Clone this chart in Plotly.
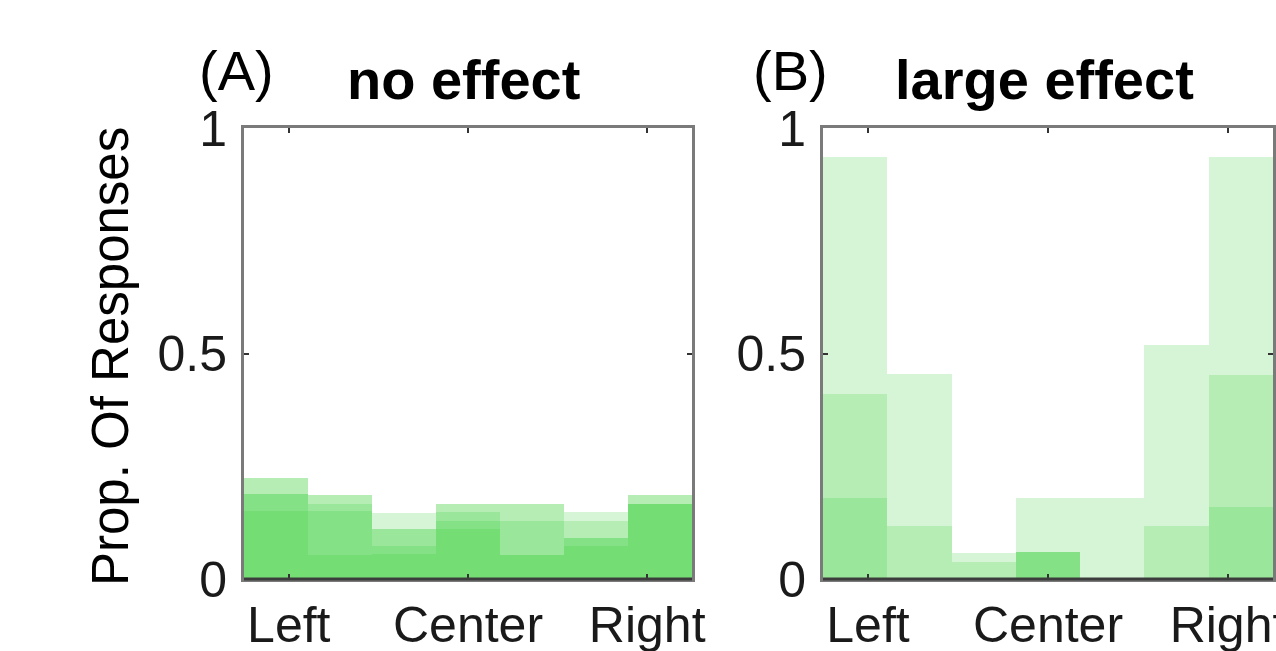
import plotly.graph_objects as go

W, H = 1276, 651

# Response bins (normalised azimuth, bin centres) and bin width
bin_centers = [-1.0714, -0.7143, -0.3571, 0.0, 0.3571, 0.7143, 1.0714]
bin_width = 0.3571
tick_vals = [-1, 0, 1]
tick_text = ["Left", "Center", "Right"]

# Proportion of responses per bin, one list per stimulus condition
no_effect = {
    "s1": [0.224, 0.187, 0.147, 0.166, 0.053, 0.092, 0.166],
    "s2": [0.224, 0.053, 0.110, 0.110, 0.166, 0.149, 0.187],
    "s3": [0.188, 0.187, 0.055, 0.149, 0.129, 0.073, 0.166],
    "s4": [0.188, 0.166, 0.110, 0.129, 0.053, 0.129, 0.187],
    "s5": [0.150, 0.151, 0.073, 0.166, 0.166, 0.092, 0.166],
}
large_effect = {
    "s1": [0.935, 0.000, 0.058, 0.000, 0.000, 0.000, 0.000],
    "s2": [0.410, 0.455, 0.000, 0.060, 0.000, 0.000, 0.000],
    "s3": [0.180, 0.118, 0.037, 0.179, 0.179, 0.1175, 0.160],
    "s4": [0.000, 0.000, 0.000, 0.060, 0.000, 0.519, 0.452],
    "s5": [0.000, 0.000, 0.000, 0.060, 0.000, 0.000, 0.935],
}

bar_color = "rgba(50,205,50,0.2)"
font = "Liberation Sans, Arial, sans-serif"


def px_x(p):
    return p / W


def px_y(p):
    return 1 - p / H


fig = go.Figure()

for axis_id, data in (("", no_effect), ("2", large_effect)):
    for name, vals in data.items():
        fig.add_trace(go.Bar(
            x=bin_centers, y=vals, width=bin_width,
            marker=dict(color=bar_color, line=dict(width=0)),
            xaxis="x" + axis_id, yaxis="y" + axis_id,
            name=name, showlegend=False, hoverinfo="skip",
        ))

x_dom_a = [px_x(244), px_x(692)]
x_dom_b = [px_x(823), px_x(1273)]
y_dom = [px_y(579), px_y(128)]

frame = dict(showline=True, linecolor="#7a7a7a", linewidth=3, mirror="ticks",
             ticks="inside", ticklen=5, tickwidth=2, tickcolor="#333333",
             showgrid=False, zeroline=False, automargin=False,
             ticklabeloverflow="allow",
             tickfont=dict(family=font, size=50, color="#1a1a1a"))

xaxis_common = dict(frame, range=[-1.25, 1.25], tickvals=tick_vals,
                    ticktext=tick_text, ticklabelstandoff=0)
yaxis_common = dict(frame, range=[0, 1], tickvals=[0, 0.5, 1],
                    ticktext=["0", "0.5", "1"], ticklabelstandoff=4)

fig.update_layout(
    width=W, height=H,
    margin=dict(l=0, r=0, t=0, b=0),
    paper_bgcolor="white", plot_bgcolor="white",
    barmode="overlay", bargap=0,
    xaxis=dict(xaxis_common, domain=x_dom_a, anchor="y"),
    yaxis=dict(yaxis_common, domain=y_dom, anchor="x"),
    xaxis2=dict(xaxis_common, domain=x_dom_b, anchor="y2"),
    yaxis2=dict(yaxis_common, domain=y_dom, anchor="x2"),
)

# darker bottom edge of each frame
for dom in (x_dom_a, x_dom_b):
    fig.add_shape(type="line", xref="paper", yref="paper",
                  x0=dom[0], x1=dom[1], y0=y_dom[0], y1=y_dom[0],
                  line=dict(color="#3c3c3c", width=3), layer="above")

annotations = [
    dict(text="(A)", x=px_x(197), y=px_y(70), xanchor="left"),
    dict(text="<b>no effect</b>", x=px_x(463), y=px_y(80), xanchor="center"),
    dict(text="(B)", x=px_x(751), y=px_y(70), xanchor="left"),
    dict(text="<b>large effect</b>", x=px_x(1044), y=px_y(80), xanchor="center"),
]
for a in annotations:
    fig.add_annotation(text=a["text"], x=a["x"], y=a["y"], xref="paper", yref="paper",
                       xanchor=a["xanchor"], yanchor="middle", showarrow=False,
                       font=dict(family=font, size=56, color="black"))

fig.add_annotation(text="Prop. Of Responses", x=px_x(110), y=px_y(357),
                   xref="paper", yref="paper", textangle=-90,
                   xanchor="center", yanchor="middle", showarrow=False,
                   font=dict(family=font, size=51, color="black"))

fig.write_html("out.html")
